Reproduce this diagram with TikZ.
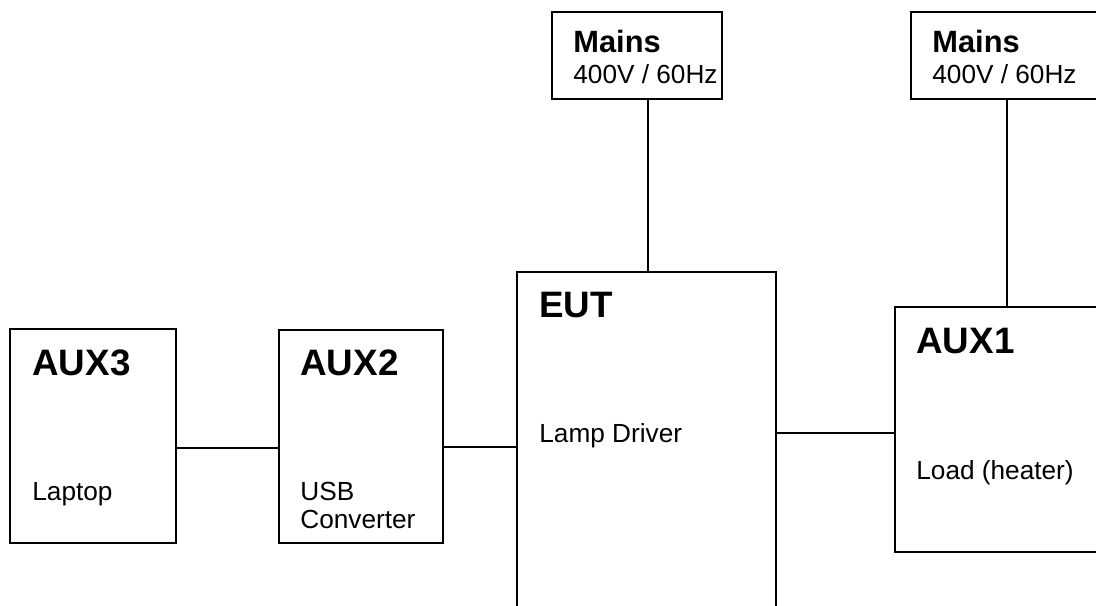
\documentclass[tikz,border=0pt]{standalone}
\usepackage{fontspec}
\setmainfont{Liberation Sans}
\begin{document}
\begin{tikzpicture}[x=0.5pt,y=-0.5pt,
    box/.style={draw,line width=0.8pt,inner sep=0pt},
    title/.style={anchor=base west,inner sep=0pt,font=\fontsize{18.4}{22}\selectfont\bfseries},
    mtitle/.style={anchor=base west,inner sep=0pt,font=\fontsize{15.4}{18}\selectfont\bfseries},
    sub/.style={anchor=base west,inner sep=0pt,align=left,font=\fontsize{13.1}{14}\selectfont},
    wire/.style={line width=0.8pt}]
    \useasboundingbox (0,0) rectangle (1096,605);
    \clip (0,0) rectangle (1096,605);

    % boxes
    \node[box,minimum width=83pt,minimum height=107pt] (aux3) at (93,436) {};
    \node[box,minimum width=82pt,minimum height=106.5pt] (aux2) at (361,436.5) {};
    \node[box,minimum width=129.5pt,minimum height=194pt] (eut) at (646.5,466) {};
    \node[box,minimum width=117.5pt,minimum height=122.5pt] (aux1) at (1012.5,429.5) {};
    \node[box,minimum width=85pt,minimum height=43.5pt] (mains1) at (637,55.5) {};
    \node[box,minimum width=109.5pt,minimum height=43.5pt] (mains2) at (1020.5,55.5) {};

    % labels
    \node[title] (aux3t) at (32,375) {AUX3};
    \node[sub] (aux3s) at (32,500) {Laptop};
    \node[title] (aux2t) at (300,375) {AUX2};
    \node[sub] (aux2s) at (300,528) {USB\\Converter};
    \node[title] (eutt) at (539,317) {EUT};
    \node[sub] (euts) at (539,442) {Lamp Driver};
    \node[title] (aux1t) at (916,353) {AUX1};
    \node[sub] (aux1s) at (916,479) {Load (heater)};
    \node[mtitle] (mains1t) at (573,52) {Mains};
    \node[sub] (mains1s) at (573,83) {400V / 60Hz};
    \node[mtitle] (mains2t) at (932,52) {Mains};
    \node[sub] (mains2s) at (932,83) {400V / 60Hz};

    % connections
    \draw[wire] (aux3.east |- 0,448) -- (aux2.west |- 0,448);
    \draw[wire] (aux2.east |- 0,447) -- (eut.west |- 0,447);
    \draw[wire] (eut.east |- 0,433) -- (aux1.west |- 0,433);
    \draw[wire] (mains1.south -| 648,0) -- (eut.north -| 648,0);
    \draw[wire] (mains2.south -| 1007,0) -- (aux1.north -| 1007,0);
\end{tikzpicture}
\end{document}
